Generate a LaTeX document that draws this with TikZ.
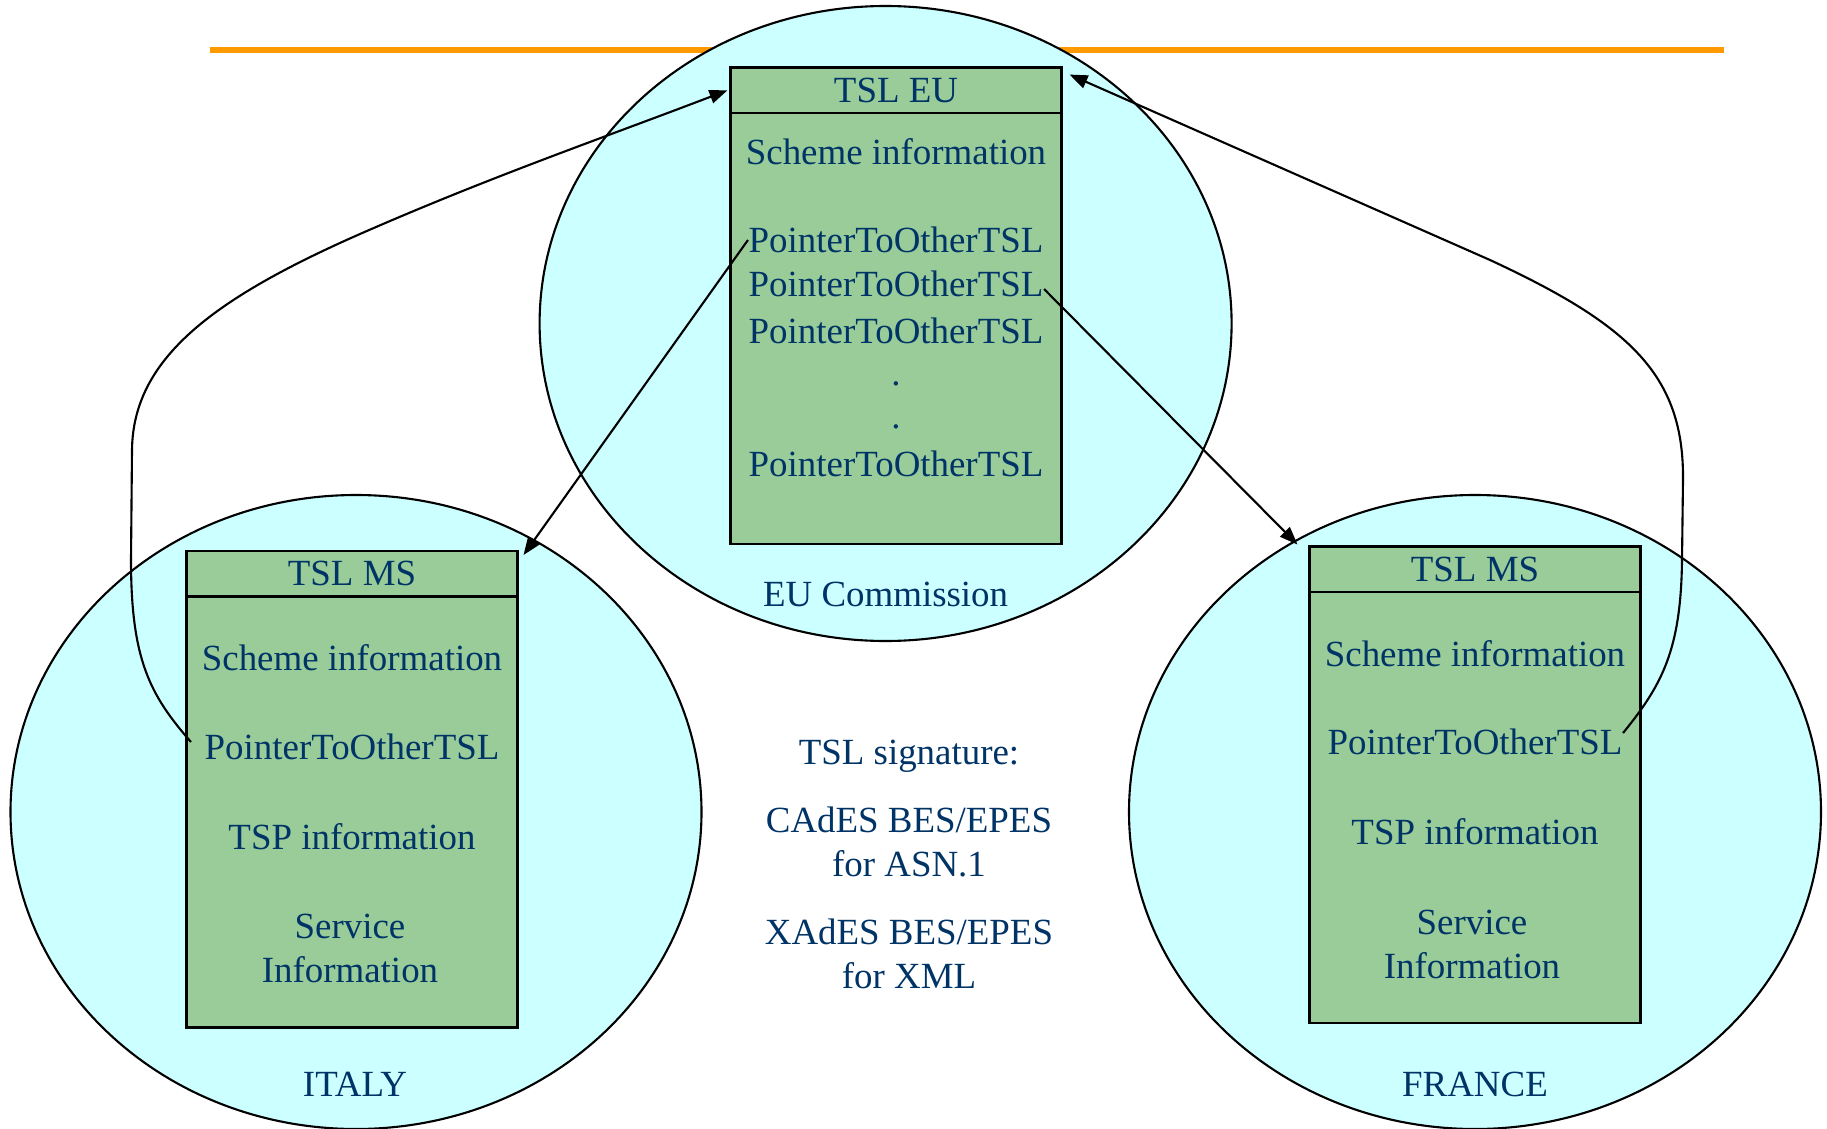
\documentclass[tikz,border=0pt]{standalone}
\usepackage{fontspec}
\setmainfont{Liberation Serif}
\usetikzlibrary{arrows.meta,positioning}
\definecolor{tslblue}{RGB}{0,51,102}
\definecolor{tslgreen}{RGB}{153,204,153}
\definecolor{tslcyan}{RGB}{204,255,255}
\definecolor{tslorange}{RGB}{255,153,0}
\tikzset{
  region/.style={draw=black, fill=tslcyan, line width=0.6pt},
  head/.style={draw=black, fill=tslgreen, line width=0.7pt, minimum width=3.31cm, minimum height=0.455cm, inner sep=0pt, outer sep=0pt, text=tslblue},
  body/.style={draw=black, fill=tslgreen, line width=0.7pt, minimum width=3.31cm, minimum height=4.31cm, inner sep=0pt, outer sep=0pt},
  lbl/.style={text=tslblue, inner sep=0pt, align=center},
  ptr/.style={line width=0.6pt, -{Triangle[length=1.8mm,width=1.35mm]}}
}
\begin{document}
\begin{tikzpicture}[font=\fontsize{10.5}{12.5}\selectfont]
\useasboundingbox (0,0) rectangle (18.27,-11.29);
\draw[tslorange, line width=1.7pt] (2.10,-0.50) -- (17.24,-0.50);
% the three parties
\draw[region] (8.856,-3.235) ellipse [x radius=3.46, y radius=3.175];
\draw[region] (3.56,-8.12) ellipse [x radius=3.455, y radius=3.17];
\draw[region] (14.75,-8.12) ellipse [x radius=3.46, y radius=3.17];
% EU list
\node[head] (euHead) at (8.96,-0.903) {TSL EU};
\node[body, below=0pt of euHead] (euBody) {};
\node[lbl] (euScheme) at (8.96,-1.515) {Scheme information};
\node[lbl] (euPtrA) at (8.96,-2.40) {PointerToOtherTSL};
\node[lbl] (euPtrB) at (8.96,-2.84) {PointerToOtherTSL};
\node[lbl] (euPtrC) at (8.96,-3.31) {PointerToOtherTSL};
\node[lbl] (euDotA) at (8.96,-3.84) {.};
\node[lbl] (euDotB) at (8.96,-4.27) {.};
\node[lbl] (euPtrD) at (8.96,-4.64) {PointerToOtherTSL};
\node[lbl] (euName) at (8.856,-5.94) {EU Commission};
% Italy list
\node[head] (itHead) at (3.52,-5.738) {TSL MS};
\node[body, below=0pt of itHead] (itBody) {};
\node[lbl] (itScheme) at (3.52,-6.58) {Scheme information};
\node[lbl] (itPtr) at (3.52,-7.47) {PointerToOtherTSL};
\node[lbl] (itTsp) at (3.52,-8.37) {TSP information};
\node[lbl] (itServ) at (3.50,-9.48) {Service\\Information};
\node[lbl] (itName) at (3.55,-10.84) {ITALY};
% France list
\node[head] (frHead) at (14.75,-5.693) {TSL MS};
\node[body, below=0pt of frHead] (frBody) {};
\node[lbl] (frScheme) at (14.75,-6.537) {Scheme information};
\node[lbl] (frPtr) at (14.75,-7.42) {PointerToOtherTSL};
\node[lbl] (frTsp) at (14.75,-8.32) {TSP information};
\node[lbl] (frServ) at (14.72,-9.44) {Service\\Information};
\node[lbl] (frName) at (14.75,-10.84) {FRANCE};
% signature formats
\node[lbl] (sigTitle) at (9.09,-7.565) {TSL signature:};
\node[lbl] (sigCades) at (9.09,-8.42) {CAdES BES/EPES\\for ASN.1};
\node[lbl] (sigXades) at (9.09,-9.54) {XAdES BES/EPES\\for XML};
% pointers
\draw[ptr] (euPtrA.west) -- ([xshift=0.06cm,yshift=-0.04cm]itHead.north east);
\draw[ptr] ([yshift=-0.05cm]euPtrB.east) -- ([xshift=-0.12cm,yshift=0.02cm]frHead.north west);
\draw[ptr] ([xshift=-0.13cm,yshift=0.05cm]itPtr.west) .. controls (1.50,-6.95) and (1.31,-6.6) .. (1.31,-5.6) -- (1.32,-4.5) .. controls (1.33,-3.6) and (2.1,-3.0) .. (3.6,-2.34) .. controls (4.9,-1.77) and (6.0,-1.39) .. ([xshift=-0.03cm]euHead.west);
\draw[ptr] ([yshift=0.09cm]frPtr.east) .. controls (16.62,-6.85) and (16.81,-6.5) .. (16.82,-5.6) -- (16.83,-4.8) .. controls (16.84,-3.75) and (16.3,-3.25) .. (14.9,-2.6) -- ([xshift=0.08cm,yshift=-0.07cm]euHead.north east);
\end{tikzpicture}
\end{document}
